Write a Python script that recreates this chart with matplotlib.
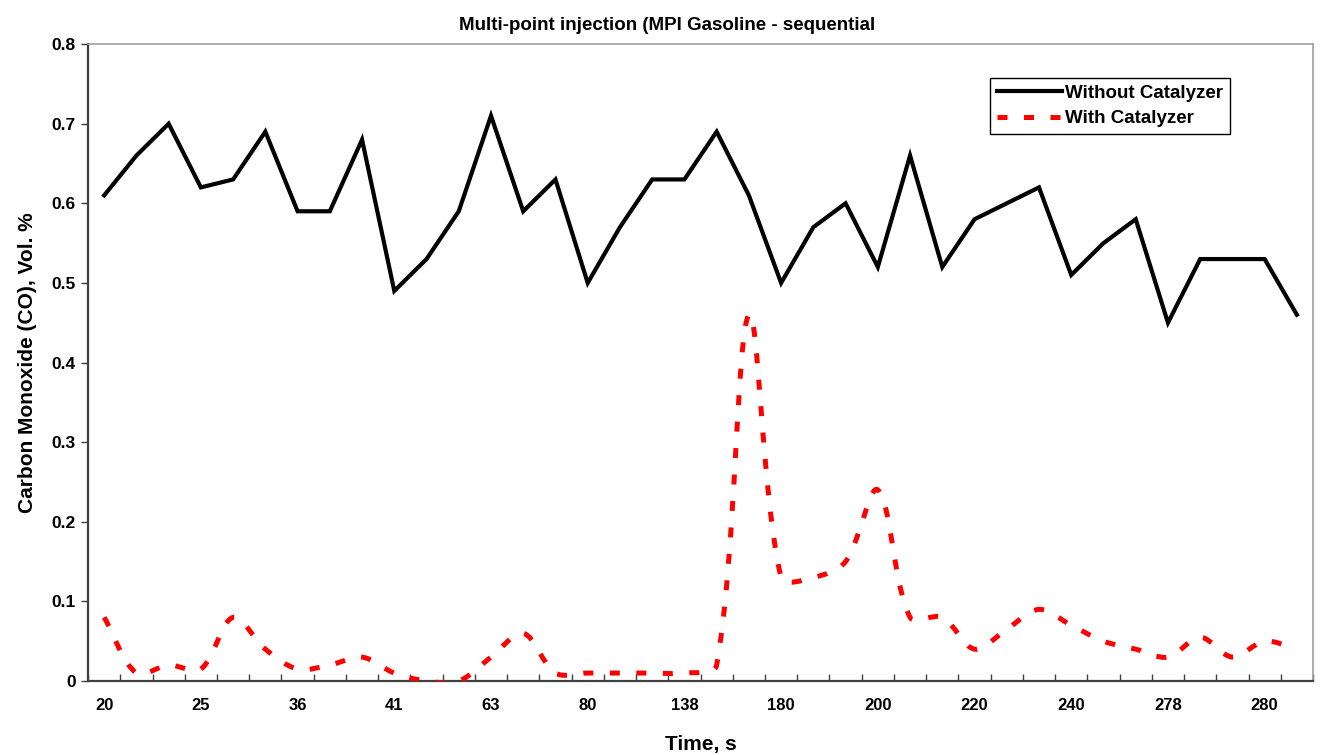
import matplotlib

matplotlib.use("Agg")
import matplotlib.pyplot as plt
import numpy as np
from matplotlib.lines import Line2D
from matplotlib.patches import PathPatch
from matplotlib.path import Path

# Time labels shown on the category axis (every third sample)
time_labels = ["20", "25", "36", "41", "63", "80", "138", "180",
               "200", "220", "240", "278", "280"]

# CO, vol. %, one value per sample
co_without = [0.61, 0.66, 0.70, 0.62, 0.63, 0.69, 0.59, 0.59, 0.68, 0.49,
              0.53, 0.59, 0.71, 0.59, 0.63, 0.50, 0.57, 0.63, 0.63, 0.69,
              0.61, 0.50, 0.57, 0.60, 0.52, 0.66, 0.52, 0.58, 0.60, 0.62,
              0.51, 0.55, 0.58, 0.45, 0.53, 0.53, 0.53, 0.46]
co_with = [0.08, 0.01, 0.02, 0.015, 0.08, 0.04, 0.015, 0.02, 0.03, 0.01,
           0.0, 0.0, 0.03, 0.06, 0.01, 0.01, 0.01, 0.01, 0.01, 0.02,
           0.46, 0.13, 0.13, 0.15, 0.24, 0.08, 0.08, 0.04, 0.065, 0.09,
           0.07, 0.05, 0.04, 0.03, 0.055, 0.03, 0.05, 0.04]

FONT = ["Liberation Sans Narrow", "Liberation Sans", "DejaVu Sans"]
RED = "#FF0000"
AXIS = "#404040"
FRAME = "#A0A0A0"


def smooth_path(x, y, sx, sy):
    """Bezier path through every point; tangent lengths follow the
    neighbouring segment lengths (measured with sx/sy pixel scaling)."""
    pts = np.column_stack([x, y]).astype(float)
    scale = np.array([sx, sy])
    n = len(pts)

    def dist(a, b):
        return float(np.hypot(*((b - a) * scale)))

    verts = [pts[0]]
    codes = [Path.MOVETO]
    for i in range(n - 1):
        p0 = pts[max(i - 1, 0)]
        p1 = pts[i]
        p2 = pts[i + 1]
        p3 = pts[min(i + 2, n - 1)]
        d01, d12, d23 = dist(p0, p1), dist(p1, p2), dist(p2, p3)
        f1 = d12 / (d01 + d12) / 3.0 if d01 + d12 > 0 else 0.0
        f2 = d12 / (d12 + d23) / 3.0 if d12 + d23 > 0 else 0.0
        c1 = p1 + (p2 - p0) * f1
        c2 = p2 - (p3 - p1) * f2
        verts += [c1, c2, p2]
        codes += [Path.CURVE4] * 3
    return Path(verts, codes)


plt.rcParams["font.family"] = FONT
plt.rcParams["font.weight"] = "bold"
plt.rcParams["axes.labelweight"] = "bold"
plt.rcParams["figure.titleweight"] = "bold"

fig = plt.figure(figsize=(13.22, 7.55), dpi=100)
ax = fig.add_axes([0.0666, 0.098, 0.9266, 0.8436])

idx = np.arange(len(co_without))
ax.plot(idx, co_without, color="black", lw=3.0, solid_joinstyle="miter",
        zorder=3)

red_style = dict(color=RED, lw=3.6, ls=(0, (2.0, 3.3)), dash_capstyle="butt")
ax.add_patch(PathPatch(smooth_path(idx, co_with, 32.2, 796.0), fill=False,
                       edgecolor=RED, lw=3.6, ls=(0, (2.0, 3.3)),
                       capstyle="butt", zorder=3))

ax.set_xlim(-0.5, len(idx) - 0.5)
ax.set_ylim(0, 0.8)

# ticks on category boundaries, labels on every third category
ax.set_xticks(np.arange(-0.5, len(idx), 1.0))
ax.set_xticklabels([])
ax.set_xticks(np.arange(0, len(idx), 3), minor=True)
ax.set_xticklabels(time_labels, minor=True)
ax.tick_params(axis="x", which="major", direction="in", length=5,
               width=1, color=AXIS)
ax.tick_params(axis="x", which="minor", length=0, pad=12, labelsize=12)

ax.set_yticks(np.arange(0, 0.81, 0.1))
ax.set_yticklabels(["0"] + [f"{v:.1f}" for v in np.arange(0.1, 0.81, 0.1)])
ax.tick_params(axis="y", direction="out", length=5, width=1, color=AXIS,
               pad=4, labelsize=12.5)

for side in ("left", "bottom"):
    ax.spines[side].set_color(AXIS)
    ax.spines[side].set_linewidth(1.6)
for side in ("top", "right"):
    ax.spines[side].set_color(FRAME)
    ax.spines[side].set_linewidth(1.2)

ax.set_xlabel("Time, s", fontsize=15, labelpad=16)
ax.set_ylabel("Carbon Monoxide (CO), Vol. %", fontsize=15, labelpad=10)
fig.suptitle("Multi-point injection (MPI Gasoline - sequential",
             fontsize=13.5, x=0.505, y=0.977)

handles = [
    Line2D([], [], color="black", lw=3.0),
    Line2D([], [], **red_style),
]
leg = ax.legend(handles, ["Without Catalyzer", "With Catalyzer"],
                loc="upper right", bbox_to_anchor=(0.932, 0.947),
                fontsize=13.5, handlelength=3.5, handletextpad=0.15,
                borderpad=0.35, labelspacing=0.45, borderaxespad=0,
                fancybox=False, framealpha=1)
leg.get_frame().set_edgecolor("black")
leg.get_frame().set_linewidth(1.0)

fig.savefig("out.png", dpi=100)
